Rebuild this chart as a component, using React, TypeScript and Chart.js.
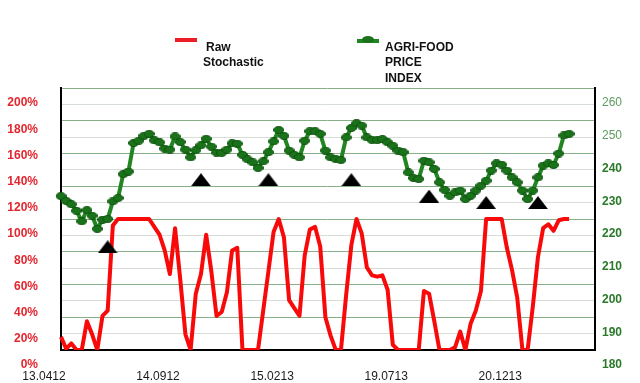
import React, { useEffect, useRef } from 'react';
import { Chart, registerables } from 'chart.js';

Chart.register(...registerables);

// ---- data ----
const START_DATE = [2012, 3, 13]; // 13.04.12, weekly observations
const CATEGORY_COUNT = 104;
const LABEL_EVERY = 22;

const rawStochastic = [
  10, 1, 5, 0, 0, 22, 12, 0, 26, 30,
  95, 100, 100, 100, 100, 100, 100, 100, 94, 88,
  76, 58, 93, 54, 12, 0, 43, 58, 88, 60,
  26, 29, 44, 76, 78, 0, 0, 0, 0, 30,
  60, 90, 100, 86, 38, 32, 26, 72, 92, 94,
  79, 25, 11, 0, 0, 42, 80, 100, 89, 63,
  57, 56, 57, 46, 4, 0, 0, 0, 0, 0,
  45, 43, 22, 0, 0, 0, 2, 14, 0, 20,
  30, 45, 100, 100, 100, 100, 78, 61, 40, 0,
  0, 33, 71, 93, 96, 91, 99, 100, 100,
];

const agriFoodIndex = [
  227, 225.5, 224.5, 222.5, 219.3, 222.7, 221, 217, 219.8, 220,
  225.4, 226.4, 233.7, 234.5, 243.2, 243.9, 245.4, 246, 244, 243.4,
  241.5, 241.2, 245.2, 243.5, 241.2, 238.8, 241, 242.5, 244.5, 242.1,
  240.3, 240.2, 241.2, 243.1, 243, 239.6, 238.2, 237.3, 235.6, 237.6,
  240.4, 243.7, 247.2, 245.4, 240.9, 239.6, 238.8, 243.9, 246.8, 246.8,
  246, 240.9, 238.8, 238.3, 238, 244.9, 247.8, 249.2, 248.5, 244.9,
  244.1, 244.1, 244.4, 243.4, 242.4, 240.9, 240.4, 234.2, 232.5, 232.2,
  237.8, 237.3, 235.3, 231.2, 228.9, 227.1, 228.1, 228.7, 226.1, 227.1,
  228.7, 230.2, 231.7, 234.8, 237, 236.6, 234.8, 232.7, 231.2, 228.7,
  226.1, 228.7, 232.7, 236.3, 237, 236.5, 240, 245.5, 246,
];

const signalIndex = [9, 27, 40, 56, 71, 82, 92];
const signalLevel = [211.5, 232, 232, 232, 227, 225, 225];

const PCT_MIN = 0;
const PCT_MAX = 200;
const PCT_STEP = 20;
const IDX_MIN = 180;
const IDX_MAX = 260;
const IDX_STEP = 5;

const FONT = '"Liberation Sans", Arial, Helvetica, sans-serif';

function pad2(n: number) {
  return n < 10 ? '0' + n : String(n);
}

const categories: string[] = Array.from({ length: CATEGORY_COUNT }, (_, i) => {
  const d = new Date(Date.UTC(START_DATE[0], START_DATE[1], START_DATE[2] + 7 * i));
  return pad2(d.getUTCDate()) + '.' + pad2(d.getUTCMonth() + 1) + pad2(d.getUTCFullYear() % 100);
});

function makeTriangle() {
  const c = document.createElement('canvas');
  c.width = 20;
  c.height = 13;
  const g = c.getContext('2d')!;
  g.fillStyle = '#000';
  g.beginPath();
  g.moveTo(10, 0);
  g.lineTo(20, 13);
  g.lineTo(0, 13);
  g.closePath();
  g.fill();
  return c;
}

function makeEllipse() {
  const c = document.createElement('canvas');
  c.width = 11;
  c.height = 8;
  const g = c.getContext('2d')!;
  g.fillStyle = '#1a721a';
  g.strokeStyle = '#0f540f';
  g.lineWidth = 1;
  g.beginPath();
  g.ellipse(5.5, 4, 5, 3.5, 0, 0, Math.PI * 2);
  g.fill();
  g.stroke();
  return c;
}

export default function App() {
  const canvasRef = useRef<HTMLCanvasElement | null>(null);

  useEffect(() => {
    const canvas = canvasRef.current;
    if (!canvas) return;

    const signalData: (number | null)[] = categories.map(() => null);
    signalIndex.forEach((idx, k) => {
      signalData[idx] = signalLevel[k];
    });

    const chart = new Chart(canvas, {
      type: 'line',
      data: {
        labels: categories,
        datasets: [
          {
            label: 'Signal',
            data: signalData,
            yAxisID: 'y1',
            showLine: false,
            pointStyle: makeTriangle() as any,
            pointRadius: 8,
            borderColor: '#000',
            backgroundColor: '#000',
          },
          {
            label: 'Raw Stochastic',
            data: rawStochastic,
            yAxisID: 'y',
            borderColor: '#f80a0a',
            backgroundColor: '#f80a0a',
            borderWidth: 4,
            pointRadius: 0,
            tension: 0,
            borderJoinStyle: 'round',
          },
          {
            label: 'AGRI-FOOD PRICE INDEX',
            data: agriFoodIndex,
            yAxisID: 'y1',
            borderColor: '#218621',
            backgroundColor: '#1a721a',
            borderWidth: 4,
            pointStyle: makeEllipse() as any,
            pointRadius: 4,
            tension: 0,
            borderJoinStyle: 'round',
          },
        ],
      },
      options: {
        responsive: false,
        animation: false,
        layout: { padding: { top: 88, left: 0, right: 0, bottom: 0 } },
        plugins: {
          legend: { display: false },
          tooltip: { enabled: false },
        },
        scales: {
          x: {
            type: 'category',
            offset: false,
            grid: { display: false, drawTicks: false },
            border: { display: true, color: '#000', width: 2 },
            ticks: {
              autoSkip: false,
              maxRotation: 0,
              minRotation: 0,
              padding: 19,
              labelOffset: -17,
              color: '#1a1a1a',
              font: { family: FONT, size: 12 },
              callback: (_v: any, i: number) => (i % LABEL_EVERY === 0 ? categories[i] : ''),
            },
            afterFit: (s: any) => {
              s.height = 33;
            },
          },
          y: {
            position: 'left',
            min: PCT_MIN,
            max: PCT_MAX,
            grid: { display: false, drawTicks: false },
            border: { display: true, color: '#000', width: 2 },
            ticks: {
              stepSize: PCT_STEP,
              autoSkip: false,
              padding: 23,
              labelOffset: 15,
              color: '#e3262e',
              font: { family: FONT, size: 12, weight: 'bold' },
              callback: (v: any) => v + '%',
            },
            afterFit: (s: any) => {
              s.width = 61;
            },
          },
          y1: {
            position: 'right',
            min: IDX_MIN,
            max: IDX_MAX,
            grid: {
              display: true,
              drawTicks: false,
              color: (ctx: any) => (ctx.tick && ctx.tick.value % 10 === 0 ? '#88b088' : '#d7ddd7'),
              lineWidth: 1,
            },
            border: { display: true, color: '#000', width: 2 },
            ticks: {
              stepSize: IDX_STEP,
              autoSkip: false,
              padding: 7,
              labelOffset: 15,
              color: (ctx: any) => (ctx.tick && ctx.tick.value >= 250 ? '#5c9c5c' : '#2a7a2a'),
              font: (ctx: any) => ({
                family: FONT,
                size: 12,
                weight: ctx.tick && ctx.tick.value >= 250 ? 'normal' : 'bold',
              }),
              callback: (v: any) => (Number(v) % 10 === 0 ? String(v) : ''),
            },
            afterFit: (s: any) => {
              s.width = 45;
            },
          },
        },
      } as any,
    });

    return () => {
      chart.destroy();
    };
  }, []);

  const textStyle: React.CSSProperties = {
    position: 'absolute',
    font: `bold 12px ${FONT}`,
    lineHeight: '15px',
    color: '#111',
    whiteSpace: 'nowrap',
  };

  return (
    <div
      style={{
        position: 'fixed',
        left: 0,
        top: 0,
        width: 640,
        height: 383,
        background: '#fff',
        overflow: 'hidden',
      }}
    >
      <canvas ref={canvasRef} width={640} height={383} style={{ display: 'block', width: 640, height: 383 }} />
      <div style={{ position: 'absolute', left: 175, top: 38, width: 22, height: 4, background: '#ee1c25' }} />
      <div style={{ ...textStyle, left: 206, top: 40 }}>Raw</div>
      <div style={{ ...textStyle, left: 203, top: 55 }}>Stochastic</div>
      <div style={{ position: 'absolute', left: 357, top: 39, width: 22, height: 4, background: '#218621' }} />
      <div
        style={{
          position: 'absolute',
          left: 362,
          top: 36,
          width: 12,
          height: 7,
          borderRadius: '50%',
          background: '#1a721a',
        }}
      />
      <div style={{ ...textStyle, left: 385, top: 40 }}>AGRI-FOOD</div>
      <div style={{ ...textStyle, left: 385, top: 55.3 }}>PRICE</div>
      <div style={{ ...textStyle, left: 385, top: 70.6 }}>INDEX</div>
    </div>
  );
}
